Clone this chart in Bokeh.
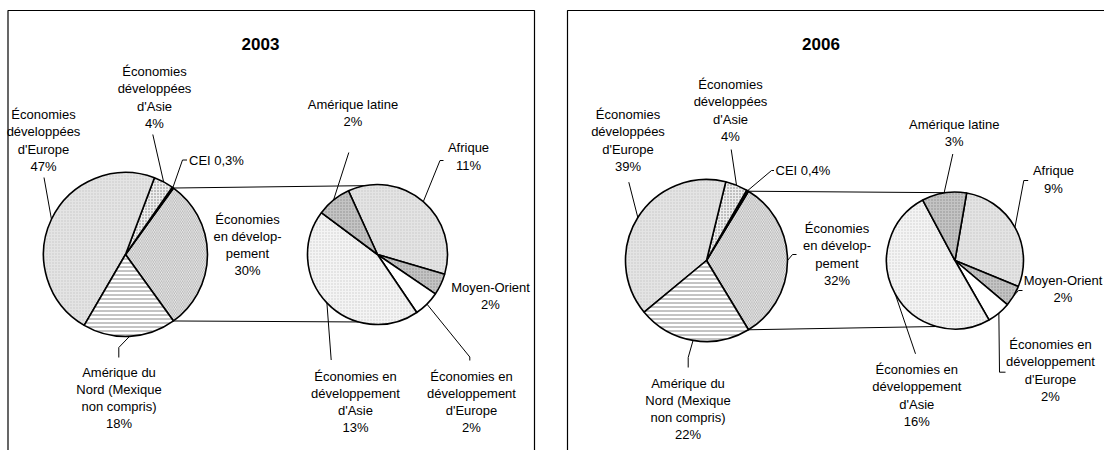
import math
from bokeh.plotting import figure
from bokeh.models import Range1d
from bokeh.embed import file_html
from bokeh.resources import INLINE
from bokeh.core.properties import value

# ---------------- data (percent of total) ----------------
years = ["2003", "2006"]
split_name = "Économies en développement"
primary_cats = ["CEI", "Économies développées d'Asie",
                "Économies développées d'Europe",
                "Amérique du Nord (Mexique non compris)"]
primary_2003 = [0.3, 3.9, 47.2, 18.3]
primary_2006 = [0.4, 4.4, 39.4, 22.4]

secondary_cats = ["Afrique", "Moyen-Orient",
                  "Économies en développement d'Europe",
                  "Économies en développement d'Asie", "Amérique latine"]
secondary_2003 = [10.9, 1.5, 1.8, 13.4, 2.4]
secondary_2006 = [9.2, 1.6, 1.8, 16.3, 3.4]

primary_values = {"2003": primary_2003, "2006": primary_2006}
secondary_values = {"2003": secondary_2003, "2006": secondary_2006}

# ---------------- label wording (line breaks) ----------------
label_text = {
    "Économies développées d'Europe": "Économies\ndéveloppées\nd'Europe",
    "Économies développées d'Asie": "Économies\ndéveloppées\nd'Asie",
    "Amérique du Nord (Mexique non compris)": "Amérique du\nNord (Mexique\nnon compris)",
    "Économies en développement": "Économies\nen dévelop-\npement",
    "Amérique latine": "Amérique latine",
    "Afrique": "Afrique",
    "Moyen-Orient": "Moyen-Orient",
    "Économies en développement d'Europe": "Économies en\ndéveloppement\nd'Europe",
    "Économies en développement d'Asie": "Économies en\ndéveloppement\nd'Asie",
}

# ---------------- styles ----------------
LIGHT_DOT = dict(fill_color="#e4e4e4", hatch_pattern="dot", hatch_color="#c4c4c4",
                 hatch_scale=3, hatch_weight=0.6)
styles = {
    "Économies développées d'Europe": LIGHT_DOT,
    "Économies développées d'Asie": dict(fill_color="#eeeeee", hatch_pattern="dot",
                                          hatch_color="#7a7a7a", hatch_scale=3, hatch_weight=0.8),
    "CEI": dict(fill_color="#111111"),
    "Économies en développement": dict(fill_color="#f2f2f2", hatch_pattern="left_diagonal_line",
                                        hatch_color="#9a9a9a", hatch_scale=3.5, hatch_weight=0.7),
    "Amérique du Nord (Mexique non compris)": dict(fill_color="white", hatch_pattern="horizontal_line",
                                                    hatch_color="#6a6a6a", hatch_scale=4, hatch_weight=0.8),
    "Afrique": LIGHT_DOT,
    "Moyen-Orient": dict(fill_color="#c4c4c4", hatch_pattern="dot", hatch_color="#8c8c8c",
                         hatch_scale=3, hatch_weight=0.7),
    "Amérique latine": dict(fill_color="#c4c4c4", hatch_pattern="dot", hatch_color="#8c8c8c",
                            hatch_scale=3, hatch_weight=0.7),
    "Économies en développement d'Europe": dict(fill_color="white"),
    "Économies en développement d'Asie": dict(fill_color="#f4f4f4", hatch_pattern="dot",
                                               hatch_color="#cdcdcd", hatch_scale=3, hatch_weight=0.6),
}

# ---------------- layout (picture pixels) ----------------
layout = {
    "2003": dict(
        c1=(125, 254), r1=82, c2=(377, 254), r2=70, sec_start=114.5,
        title=(260, 43), conn_top=81, conn_bot=-105.5,
        labels={
            "Économies développées d'Europe": (43, 140, [(43.5, 177)]),
            "Économies développées d'Asie": (154, 97, [(152.3, 134)]),
            "CEI": (188.5, 159.5, [(186.5, 159.5), (182, 159.5)]),
            "Économies en développement": (247, 244.5, []),
            "Amérique du Nord (Mexique non compris)": (118.5, 397.5, [(118.3, 357), (118.3, 347)]),
            "Amérique latine": (352.5, 112.5, [(348.3, 152)]),
            "Afrique": (468, 156, [(443, 160), (439.5, 160)]),
            "Moyen-Orient": (490, 295.5, []),
            "Économies en développement d'Europe": (471, 401.5, [(469.3, 360), (469.3, 356.5)]),
            "Économies en développement d'Asie": (355, 401.5, [(330.7, 359.5)]),
        },
    ),
    "2006": dict(
        c1=(706, 260), r1=81, c2=(954.5, 260), r2=68.5, sec_start=80.2,
        title=(820.5, 43), conn_top=81, conn_bot=-105.5,
        labels={
            "Économies développées d'Europe": (627.5, 140, [(628.3, 181.7)]),
            "Économies développées d'Asie": (730, 110, [(730.7, 149)]),
            "CEI": (775, 170, [(773.5, 170), (771, 170)]),
            "Économies en développement": (836.5, 254, [(796, 254), (792, 254)]),
            "Amérique du Nord (Mexique non compris)": (687.5, 408.5, [(687.7, 367), (687.7, 357)]),
            "Amérique latine": (953.7, 132.5, [(952.3, 153.5)]),
            "Afrique": (1053, 179, [(1027.7, 180), (1023.3, 180)]),
            "Moyen-Orient": (1062.5, 288.5, [(1022, 290), (1018, 290)]),
            "Économies en développement d'Europe": (1050, 370, [(1005, 371.7), (999, 371.7)]),
            "Économies en développement d'Asie": (916.3, 395, [(915, 353.3)]),
        },
    ),
}

W, H = 1104, 450


def Y(py):
    return H - py


FONT = value("Liberation Sans")

p = figure(width=W, height=H, x_range=Range1d(0, W), y_range=Range1d(0, H),
           output_backend="svg", toolbar_location=None, x_axis_type=None,
           y_axis_type=None, min_border=0, outline_line_color=None)
p.grid.visible = False
p.background_fill_color = "white"
p.border_fill_color = "white"

# panel frames (bottom runs off the picture, right panel runs off to the right)
p.line([7.5, 7.5, 534, 534], [Y(480), Y(10), Y(10), Y(480)], line_color="black", line_width=1.2)
p.line([567, 567, 1125], [Y(480), Y(10), Y(10)], line_color="black", line_width=1.2)


def edge(cx, cy, r, ang):
    a = math.radians(ang)
    return cx + r * math.cos(a), Y(cy) + r * math.sin(a)


for yr in years:
    L = layout[yr]
    pv = primary_values[yr]
    sv = secondary_values[yr]
    split_val = sum(sv)
    total = split_val + sum(pv)
    cx1, cy1 = L["c1"]
    cx2, cy2 = L["c2"]
    r1, r2 = L["r1"], L["r2"]

    # primary slices: split slice centred at 0 deg, others follow anticlockwise
    half = split_val / total * 180.0
    prim = [(split_name, split_val, -half, half)]
    a0 = half
    for cat, v in zip(primary_cats, pv):
        span = v / total * 360.0
        prim.append((cat, v, a0, a0 + span))
        a0 += span

    # secondary slices: clockwise from sec_start
    sec = []
    a0 = L["sec_start"]
    for cat, v in zip(secondary_cats, sv):
        span = v / split_val * 360.0
        sec.append((cat, v, a0 - span, a0))
        a0 -= span

    # connector lines
    tx, ty = edge(cx1, cy1, r1, half)
    bx, by = edge(cx1, cy1, r1, -half)
    ex, ey = edge(cx2, cy2, r2, L["conn_top"])
    fx, fy = edge(cx2, cy2, r2, L["conn_bot"])
    p.line([tx, ex], [ty, ey], line_color="black", line_width=1)
    p.line([bx, fx], [by, fy], line_color="black", line_width=1)

    # wedges
    for (cx, cy, r, slices) in [(cx1, cy1, r1, prim), (cx2, cy2, r2, sec)]:
        for cat, v, s, e in slices:
            p.wedge(x=[cx], y=[Y(cy)], radius=r, start_angle=math.radians(s),
                    end_angle=math.radians(e), direction="anticlock",
                    line_color="black", line_width=1.6, **styles[cat])

    # labels + leader lines
    for (cx, cy, r, slices) in [(cx1, cy1, r1, prim), (cx2, cy2, r2, sec)]:
        for cat, v, s, e in slices:
            lx, ly, anchors = L["labels"][cat]
            if anchors:
                mx, my = edge(cx, cy, r, (s + e) / 2.0)
                xs = [a[0] for a in anchors] + [mx]
                ys = [Y(a[1]) for a in anchors] + [my]
                p.line(xs, ys, line_color="black", line_width=1)
            if cat == "CEI":
                txt = "CEI " + f"{v:.1f}".replace(".", ",") + "%"
                p.text(x=[lx], y=[Y(ly)], text=[txt], text_align="left",
                       text_baseline="middle", text_font=FONT, text_font_size="13px",
                       text_color="black")
            else:
                txt = label_text[cat] + "\n" + f"{round(v)}%"
                p.text(x=[lx], y=[Y(ly)], text=[txt], text_align="center",
                       text_baseline="middle", text_font=FONT, text_font_size="13px",
                       text_line_height=1.15, text_color="black")

    # title
    p.text(x=[L["title"][0]], y=[Y(L["title"][1])], text=[yr], text_align="center",
           text_baseline="middle", text_font=FONT, text_font_size="17px",
           text_font_style="bold", text_color="black")

open("out.html", "w").write(file_html(p, INLINE))
